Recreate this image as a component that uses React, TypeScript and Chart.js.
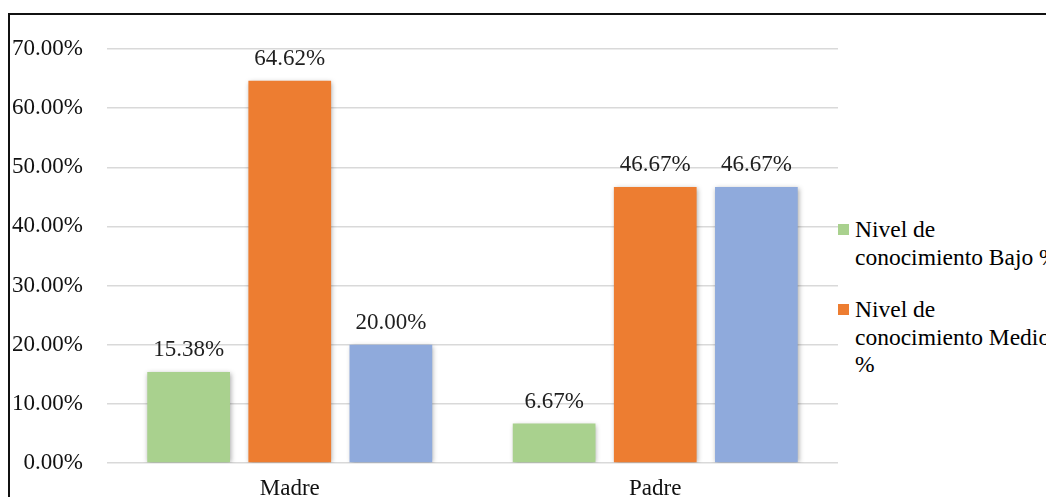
import React, { useEffect, useRef } from "react";
import { Chart, registerables } from "chart.js";

Chart.register(...registerables);

const categories = ["Madre", "Padre"];
const seriesLabels = [
  "Nivel de conocimiento Bajo %",
  "Nivel de conocimiento Medio %",
  "Nivel de conocimiento Alto %",
];
const bajo = [15.38, 6.67];
const medio = [64.62, 46.67];
const alto = [20.0, 46.67];
const seriesColors = ["#A9D18E", "#ED7D31", "#8FAADC"];
const legendShown = [0, 1];

const FONT = '"Liberation Serif", "Times New Roman", serif';

const shadowPlugin = {
  id: "barShadow",
  beforeDatasetsDraw(chart: any) {
    const ctx = chart.ctx;
    ctx.save();
    ctx.shadowColor = "rgba(0,0,0,0.35)";
    ctx.shadowBlur = 5;
    ctx.shadowOffsetX = 1;
    ctx.shadowOffsetY = 1;
  },
  afterDatasetsDraw(chart: any) {
    chart.ctx.restore();
  },
};

const labelPlugin = {
  id: "valueLabels",
  afterDatasetsDraw(chart: any) {
    const ctx = chart.ctx;
    ctx.save();
    ctx.font = `23px ${FONT}`;
    ctx.fillStyle = "#1f1f1f";
    ctx.textAlign = "center";
    ctx.textBaseline = "alphabetic";
    chart.data.datasets.forEach((ds: any, i: number) => {
      const meta = chart.getDatasetMeta(i);
      meta.data.forEach((bar: any, j: number) => {
        const v = ds.data[j] as number;
        ctx.fillText(v.toFixed(2) + "%", bar.x, bar.y - 16);
      });
    });
    ctx.restore();
  },
};

export default function App() {
  const ref = useRef<HTMLCanvasElement | null>(null);

  useEffect(() => {
    document.body.style.overflow = "hidden";
    document.documentElement.style.overflow = "hidden";
    if (!ref.current) return;
    const values = [bajo, medio, alto];
    const chart = new Chart(ref.current, {
      type: "bar",
      data: {
        labels: categories,
        datasets: seriesLabels.map((label, i) => ({
          label,
          data: values[i],
          backgroundColor: seriesColors[i],
          borderWidth: 0,
          categoryPercentage: 0.83,
          barPercentage: 0.818,
        })),
      },
      options: {
        responsive: false,
        animation: false,
        layout: { padding: { top: 34, left: 0, right: 0, bottom: 0 } },
        plugins: {
          legend: { display: false },
          tooltip: { enabled: false },
        },
        scales: {
          x: {
            grid: { display: false, drawTicks: false },
            border: { display: false },
            ticks: {
              padding: 12,
              color: "#111",
              font: { family: FONT, size: 23 },
            },
            afterFit: (scale: any) => {
              scale.height = 39;
              scale.paddingLeft = 0;
              scale.paddingRight = 0;
            },
          },
          y: {
            min: 0,
            max: 70,
            ticks: {
              stepSize: 10,
              padding: 24,
              color: "#111",
              font: { family: FONT, size: 23 },
              callback: (v: any) => Number(v).toFixed(2) + "%",
            },
            grid: { color: "#d9d9d9", lineWidth: 1.5, drawTicks: false },
            border: { display: false },
            afterFit: (scale: any) => {
              scale.width = 97;
              scale.paddingTop = 0;
              scale.paddingBottom = 0;
            },
          },
        },
      },
      plugins: [shadowPlugin, labelPlugin],
    });
    return () => chart.destroy();
  }, []);

  return (
    <div
      style={{
        position: "relative",
        top: 5,
        width: 1046,
        height: 489,
        boxSizing: "border-box",
        borderTop: "2px solid #111",
        borderLeft: "2px solid #111",
        overflow: "hidden",
        background: "#fff",
      }}
    >
      <canvas
        ref={ref}
        width={828}
        height={487}
        style={{ position: "absolute", left: 0, top: 0, width: 828, height: 487 }}
      />
      <div
        style={{
          position: "absolute",
          left: 828,
          top: 201,
          width: 240,
          fontFamily: FONT,
          fontSize: 23.5,
          lineHeight: "27.5px",
          color: "#000",
        }}
      >
        {legendShown.map((i) => (
          <div key={i} style={{ display: "flex", alignItems: "flex-start", marginBottom: 25 }}>
            <span
              style={{
                display: "inline-block",
                width: 11,
                height: 11,
                marginTop: 8,
                marginRight: 6,
                background: seriesColors[i],
                flex: "none",
              }}
            />
            <span style={{ width: 208 }}>{seriesLabels[i]}</span>
          </div>
        ))}
      </div>
    </div>
  );
}
